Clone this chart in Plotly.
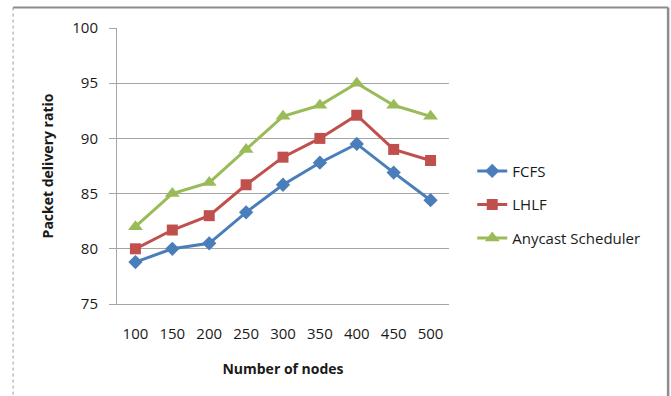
import plotly.graph_objects as go

# Network sizes and packet delivery ratios per scheduling scheme
nodes = [100, 150, 200, 250, 300, 350, 400, 450, 500]
fcfs = [78.8, 80.0, 80.5, 83.3, 85.8, 87.8, 89.5, 86.9, 84.4]
lhlf = [80.0, 81.7, 83.0, 85.8, 88.3, 90.0, 92.1, 89.0, 88.0]
anycast = [82.0, 85.0, 86.0, 89.0, 92.0, 93.0, 95.0, 93.0, 92.0]
y_ticks = [75, 80, 85, 90, 95, 100]

FONT = "'Open Sans', Lato, sans-serif"
GRID = "#a6a6a6"

series = [
    ("FCFS", fcfs, "#4a7ebb", "diamond", 11),
    ("LHLF", lhlf, "#c0504d", "square", 11),
    ("Anycast Scheduler", anycast, "#9bbb59", "triangle-up", 13),
]

fig = go.Figure()
for name, vals, color, symbol, size in series:
    fig.add_trace(go.Scatter(
        x=nodes, y=vals, name=name, mode="lines+markers",
        legendgroup=name,
        line=dict(color=color, width=3),
        marker=dict(symbol=symbol, size=size, color=color),
    ))

fig.update_layout(
    width=671, height=396,
    margin=dict(l=117, r=222, t=28, b=92),
    paper_bgcolor="white", plot_bgcolor="white",
    font=dict(family=FONT, size=15, color="#1a1a1a"),
    showlegend=True,
    legend=dict(
        x=1.07, y=0.36, xanchor="left", yanchor="middle",
        traceorder="grouped", tracegroupgap=11,
        font=dict(size=15, color="#1a1a1a"),
        bgcolor="rgba(0,0,0,0)",
    ),
    xaxis=dict(
        range=[75, 525], tickvals=nodes, ticktext=[str(n) for n in nodes],
        showgrid=False, zeroline=False,
        showline=True, linecolor=GRID, linewidth=1,
        ticks="", ticklabelstandoff=16,
        tickfont=dict(size=15),
        title=dict(text="<b>Number of nodes</b>", font=dict(size=14), standoff=22),
    ),
    yaxis=dict(
        range=[75, 100], tickvals=y_ticks,
        showgrid=True, gridcolor=GRID, gridwidth=1, zeroline=False,
        showline=True, linecolor=GRID, linewidth=1,
        ticks="outside", ticklen=7, tickcolor=GRID,
        ticklabelstandoff=8,
        tickfont=dict(size=15),
        title=dict(text="<b>Packet delivery ratio</b>", font=dict(size=14), standoff=15),
    ),
)

# Outer chart frame
fig.add_shape(type="line", xref="paper", yref="paper",
              x0=-0.313, x1=-0.313, y0=1.074, y1=-0.4,
              line=dict(color="#9a9a9a", width=1, dash="dot"))
fig.add_shape(type="line", xref="paper", yref="paper",
              x0=-0.313, x1=1.66, y0=1.074, y1=1.074,
              line=dict(color="#8c8c8c", width=2))
fig.add_shape(type="line", xref="paper", yref="paper",
              x0=1.66, x1=1.66, y0=1.074, y1=-0.4,
              line=dict(color="#8c8c8c", width=2.5))

fig.write_html("out.html")
